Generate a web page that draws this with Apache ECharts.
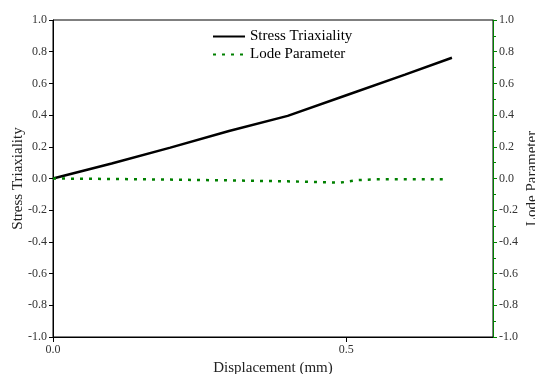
<!DOCTYPE html>
<html>
<head>
<meta charset="utf-8">
<script src="https://cdn.jsdelivr.net/npm/echarts@6/dist/echarts.min.js"></script>
<style>
  html, body { margin: 0; padding: 0; background: #fff; }
  #chart { width: 535px; height: 374px; }
</style>
</head>
<body>
<div id="chart"></div>
<script>
// 数据
var stressX = [0, 0.1, 0.2, 0.3, 0.4, 0.5, 0.6, 0.68];
var stressY = [0, 0.095, 0.195, 0.3, 0.395, 0.525, 0.655, 0.762];
var lodeX = [0, 0.1, 0.2, 0.3, 0.4, 0.49, 0.52, 0.55, 0.6, 0.67];
var lodeY = [0, -0.003, -0.007, -0.012, -0.018, -0.026, -0.01, -0.005, -0.005, -0.005];
var xTicks = [0, 0.5];

var serif = '"Liberation Serif", "Times New Roman", serif';
var green = '#008000';

function pairs(xs, ys) {
    var out = [];
    for (var i = 0; i < xs.length; i++) out.push([xs[i], ys[i]]);
    return out;
}

var myChart = echarts.init(document.getElementById('chart'));
var option = {
    animation: false,
    grid: {
        left: 53, right: 42, top: 20, bottom: 37,
        containLabel: false, outerBoundsMode: 'none',
        show: true, borderColor: '#000', borderWidth: 1
    },
    legend: {
        orient: 'vertical',
        left: 207, top: 24,
        itemWidth: 32, itemHeight: 10, itemGap: 3,
        itemStyle: { color: 'rgba(0,0,0,0)', borderWidth: 0 },
        textStyle: { fontFamily: serif, fontSize: 15, color: '#000' },
        data: ['Stress Triaxiality', 'Lode Parameter']
    },
    xAxis: {
        type: 'value',
        min: 0, max: 0.75,
        name: 'Displacement (mm)',
        nameLocation: 'middle', nameGap: 21,
        nameTextStyle: { fontFamily: serif, fontSize: 15, color: '#222' },
        splitLine: { show: false },
        axisLine: { onZero: false, lineStyle: { color: '#000', width: 1 } },
        axisTick: { customValues: xTicks, length: 5, lineStyle: { color: '#000' } },
        axisLabel: {
            customValues: xTicks, margin: 7,
            fontFamily: serif, fontSize: 12, color: '#333',
            formatter: function (v) { return v.toFixed(1); }
        }
    },
    yAxis: [{
        type: 'value',
        min: -1, max: 1, interval: 0.2,
        name: 'Stress Triaxiality',
        nameLocation: 'middle', nameGap: 27, nameMoveOverlap: false,
        nameTextStyle: { fontFamily: serif, fontSize: 15, color: '#222' },
        splitLine: { show: false },
        axisLine: { show: true, onZero: false, lineStyle: { color: '#000', width: 1 } },
        axisTick: { length: 4, lineStyle: { color: '#000' } },
        axisLabel: {
            margin: 6, fontFamily: serif, fontSize: 12, color: '#333',
            formatter: function (v) { return v.toFixed(1); }
        }
    }, {
        type: 'value',
        position: 'right',
        min: -1, max: 1, interval: 0.2,
        name: 'Lode Parameter',
        nameLocation: 'middle', nameGap: 32, nameMoveOverlap: false,
        nameTextStyle: { fontFamily: serif, fontSize: 15, color: '#222' },
        splitLine: { show: false },
        axisLine: { show: true, onZero: false, lineStyle: { color: green, width: 1 } },
        axisTick: { length: 4, lineStyle: { color: green } },
        minorTick: { show: true, splitNumber: 2, length: 3, lineStyle: { color: green } },
        axisLabel: {
            margin: 6, fontFamily: serif, fontSize: 12, color: '#333',
            formatter: function (v) { return v.toFixed(1); }
        }
    }],
    series: [{
        name: 'Stress Triaxiality',
        type: 'line',
        yAxisIndex: 0,
        symbol: 'none',
        color: '#000',
        lineStyle: { color: '#000', width: 2.5 },
        data: pairs(stressX, stressY)
    }, {
        name: 'Lode Parameter',
        type: 'line',
        yAxisIndex: 1,
        symbol: 'none',
        color: green,
        lineStyle: { color: green, width: 2.5, type: [3, 6] },
        data: pairs(lodeX, lodeY)
    }]
};
myChart.setOption(option);
</script>
</body>
</html>
